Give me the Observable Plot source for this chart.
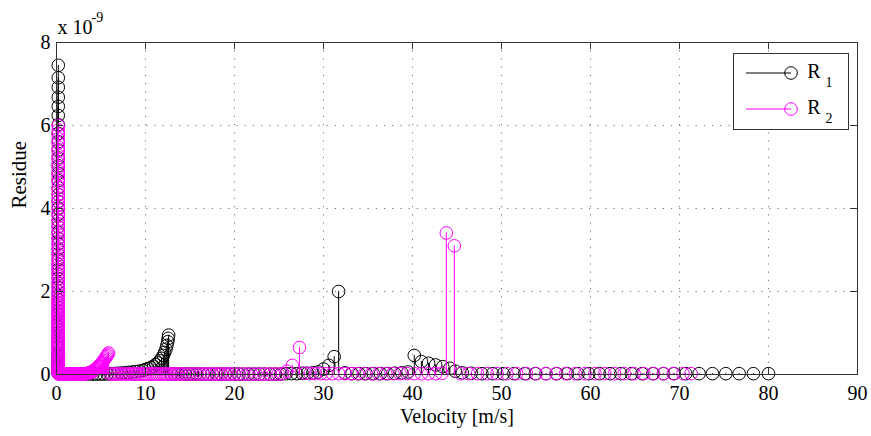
<!DOCTYPE html>
<html><head><meta charset="utf-8">
<script src="https://cdn.jsdelivr.net/npm/d3@7"></script>
<script src="https://cdn.jsdelivr.net/npm/@observablehq/plot@0.6"></script>
<style>body{margin:0;background:#fff} svg text{font-family:"Liberation Serif","DejaVu Serif","Noto Serif",Times,serif !important;}</style>
</head><body><div id="chart"></div>
<script>
// Tick values
const xTicks = [0,10,20,30,40,50,60,70,80,90];
const yTicks = [0,2,4,6,8];
const xGrid = [10,20,30,40,50,60,70,80];
const yGrid = [2,4,6];
const seriesNames = ["R", "R"];
const seriesSubs = ["1", "2"];
const seriesColors = ["#000000", "#ff00ff"];
const axisLabels = {x: "Velocity [m/s]", y: "Residue", exponent: "x 10", exponentPower: "-9"};

// Series R1: [velocity (m/s), residue (x1e-9)]
const r1 = [
[0.2,7.45],[0.2,7.15],[0.2,6.92],[0.2,6.68],[0.2,6.46],[0.2,6.24],[0.2,6.02],[0.2,5.81],[0.2,5.61],[0.2,5.41],
[0.2,5.22],[0.2,5.03],[0.2,4.85],[0.2,4.67],[0.2,4.50],[0.2,4.33],[0.2,4.17],[0.2,4.01],[0.2,3.86],[0.2,3.71],
[0.2,3.56],[0.2,3.42],[0.2,3.28],[0.2,3.15],[0.2,3.02],[0.2,2.89],[0.2,2.77],[0.2,2.65],[0.2,2.53],[0.2,2.42],
[0.2,2.31],[0.2,2.20],[0.2,2.10],[0.2,2.00],[0.2,1.90],[0.2,1.80],[0.2,1.71],[0.2,1.62],[0.2,1.53],[0.2,1.45],
[0.2,1.37],[0.2,1.29],[0.2,1.21],[0.2,1.14],[0.2,1.07],[0.2,1.00],[0.2,0.93],[0.2,0.87],[0.2,0.81],[0.2,0.75],
[0.2,0.69],[0.2,0.63],[0.2,0.58],[0.2,0.53],[0.2,0.48],[0.2,0.43],[0.2,0.38],[0.2,0.34],[0.2,0.30],[0.2,0.26],
[0.2,0.22],[0.2,0.18],[0.2,0.15],[0.2,0.12],[0.2,0.09],[0.2,0.06],[0.2,0.04],[0.2,0.02],
[0.5,0.01],[0.9,0.01],[1.3,0.01],[1.7,0.01],[2.1,0.01],[2.5,0.01],[2.9,0.01],[3.3,0.01],[3.7,0.01],[4.1,0.01],[4.5,0.01],[4.9,0.01],
[5.3,0.01],[5.7,0.015],[6.1,0.02],[6.5,0.025],[6.9,0.03],[7.3,0.035],[7.7,0.04],[8.1,0.05],[8.5,0.06],[8.9,0.07],
[9.3,0.08],[9.7,0.10],[10.0,0.12],[10.3,0.14],[10.6,0.17],[10.9,0.20],[11.15,0.24],[11.4,0.28],[11.6,0.33],[11.8,0.39],
[12.0,0.46],[12.15,0.53],[12.3,0.61],[12.4,0.70],[12.5,0.79],[12.55,0.87],[12.6,0.95],
[12.9,0.01],[13.3,0.01],[13.7,0.01],[14.1,0.01],[14.5,0.01],[14.9,0.01],[15.3,0.01],[15.7,0.01],[16.1,0.01],[16.5,0.01],
[17.0,0.01],[17.5,0.01],[18.0,0.01],[18.5,0.01],[19.0,0.01],[19.5,0.01],[20.0,0.01],[20.5,0.01],[21.0,0.01],[21.6,0.01],
[22.2,0.01],[22.8,0.01],[23.4,0.01],[24.0,0.01],[24.6,0.01],[25.2,0.01],[25.8,0.02],[26.4,0.02],[27.0,0.02],[27.6,0.03],
[28.2,0.03],[28.8,0.04],[29.4,0.06],[30.0,0.13],[30.6,0.22],[31.2,0.43],[31.7,2.00],[32.4,0.04],[33.2,0.02],[34.0,0.02],
[34.8,0.02],[35.6,0.02],[36.4,0.02],[37.2,0.02],[38.0,0.03],[38.8,0.04],[39.5,0.06],[40.2,0.46],[41.0,0.31],[41.8,0.27],
[42.6,0.23],[43.4,0.19],[44.2,0.15],[44.8,0.08],[45.6,0.04],[46.6,0.03],[47.8,0.02],[49.0,0.02],[50.2,0.02],[51.4,0.02],
[52.6,0.02],[53.8,0.02],[55.0,0.02],[56.2,0.02],[57.4,0.02],[58.6,0.02],[59.8,0.02],[61.0,0.02],[62.2,0.02],[63.4,0.02],
[64.6,0.02],[65.8,0.02],[67.0,0.02],[68.2,0.02],[69.4,0.02],[70.7,0.02],[72.2,0.02],[73.7,0.02],[75.2,0.02],[76.7,0.02],
[78.3,0.02],[80.0,0.02]
];

// Series R2: [velocity (m/s), residue (x1e-9)]
const r2 = [
[0.2,6.00],[0.2,5.89],[0.2,5.79],[0.2,5.68],[0.2,5.58],[0.2,5.48],[0.2,5.38],[0.2,5.28],[0.2,5.18],[0.2,5.09],
[0.2,4.99],[0.2,4.90],[0.2,4.80],[0.2,4.71],[0.2,4.62],[0.2,4.52],[0.2,4.43],[0.2,4.34],[0.2,4.25],[0.2,4.16],
[0.2,4.07],[0.2,3.98],[0.2,3.89],[0.2,3.81],[0.2,3.72],[0.2,3.63],[0.2,3.55],[0.2,3.46],[0.2,3.38],[0.2,3.29],
[0.2,3.21],[0.2,3.13],[0.2,3.05],[0.2,2.97],[0.2,2.89],[0.2,2.81],[0.2,2.73],[0.2,2.66],[0.2,2.58],[0.2,2.51],
[0.2,2.43],[0.2,2.36],[0.2,2.29],[0.2,2.22],[0.2,2.15],[0.2,2.08],[0.2,2.01],[0.2,1.94],[0.2,1.88],[0.2,1.82],
[0.2,1.78],[0.2,1.74],[0.2,1.70],[0.2,1.66],[0.2,1.62],[0.2,1.58],[0.2,1.54],[0.2,1.50],[0.2,1.46],[0.2,1.42],
[0.2,1.38],[0.2,1.34],[0.2,1.30],[0.2,1.26],[0.2,1.22],[0.2,1.18],[0.2,1.14],[0.2,1.10],[0.2,1.06],[0.2,1.02],
[0.2,0.98],[0.2,0.94],[0.2,0.90],[0.2,0.86],[0.2,0.82],[0.2,0.78],[0.2,0.74],[0.2,0.70],[0.2,0.66],[0.2,0.62],
[0.2,0.58],[0.2,0.54],[0.2,0.50],[0.2,0.46],[0.2,0.42],[0.2,0.38],[0.2,0.34],[0.2,0.30],[0.2,0.27],[0.2,0.24],
[0.2,0.21],[0.2,0.18],[0.2,0.15],[0.2,0.12],[0.2,0.10],[0.2,0.08],[0.2,0.06],[0.2,0.04],[0.2,0.03],[0.2,0.02],
[0.3,0.01],[0.4,0.01],[0.5,0.01],[0.6,0.01],[0.7,0.01],[0.8,0.01],[0.9,0.01],[1.0,0.01],[1.1,0.01],[1.2,0.01],
[1.3,0.01],[1.4,0.01],[1.5,0.01],[1.6,0.01],[1.7,0.01],[1.8,0.01],[1.9,0.01],[2.0,0.01],[2.1,0.01],[2.2,0.01],
[2.3,0.01],[2.4,0.01],[2.5,0.01],[2.6,0.01],[2.7,0.01],[2.8,0.01],[2.9,0.01],[3.0,0.015],[3.1,0.015],[3.2,0.02],
[3.3,0.02],[3.4,0.025],[3.5,0.03],
[3.6,0.035],[3.7,0.04],[3.8,0.05],[3.9,0.06],[4.0,0.07],[4.1,0.08],[4.2,0.10],[4.3,0.11],[4.4,0.13],[4.5,0.15],
[4.6,0.17],[4.7,0.19],[4.8,0.21],[4.9,0.23],[5.0,0.26],[5.1,0.28],[5.2,0.31],[5.3,0.34],[5.4,0.37],[5.5,0.40],
[5.6,0.43],[5.7,0.46],[5.78,0.49],[5.85,0.52],
[6.0,0.01],[6.25,0.01],[6.5,0.01],[6.75,0.01],[7.0,0.01],[7.25,0.01],[7.5,0.01],[7.75,0.01],[8.0,0.01],[8.25,0.01],
[8.5,0.01],[8.75,0.01],[9.0,0.01],[9.25,0.01],[9.5,0.01],[9.75,0.01],[10.0,0.01],[10.25,0.01],[10.5,0.01],[10.75,0.01],
[11.0,0.01],[11.25,0.01],[11.5,0.01],[11.75,0.01],[12.0,0.01],[12.25,0.01],[12.5,0.01],[12.75,0.01],[13.0,0.01],[13.25,0.01],
[13.5,0.01],[13.75,0.01],[14.0,0.01],[14.35,0.01],[14.7,0.01],[15.05,0.01],[15.4,0.01],[15.75,0.01],[16.1,0.01],[16.45,0.01],
[16.8,0.01],[17.15,0.01],[17.5,0.01],[17.85,0.01],[18.2,0.01],[18.55,0.01],[18.9,0.01],[19.25,0.01],[19.6,0.01],[19.95,0.01],
[20.4,0.01],[20.9,0.01],[21.4,0.01],[21.9,0.01],[22.4,0.01],[22.9,0.01],[23.4,0.01],[23.9,0.01],[24.4,0.01],[24.9,0.01],
[25.4,0.02],[25.9,0.08],[26.5,0.22],[27.3,0.65],[27.9,0.03],[28.5,0.02],[29.1,0.02],[29.7,0.02],[30.3,0.02],[31.0,0.02],
[31.7,0.02],[32.4,0.02],[33.1,0.02],[33.8,0.02],[34.6,0.02],[35.4,0.02],[36.2,0.02],[37.0,0.02],[37.8,0.02],[38.6,0.02],
[39.4,0.02],[40.2,0.02],[41.0,0.02],[41.8,0.02],[42.6,0.02],[43.3,0.03],[43.8,3.41],[44.7,3.10],[45.4,0.02],[46.3,0.02],
[47.3,0.02],[48.4,0.02],[49.5,0.02],[50.6,0.02],[51.7,0.02],[52.8,0.02],[53.9,0.02],[55.0,0.02],[56.1,0.02],[57.2,0.02],
[58.3,0.02],[59.4,0.02],[60.5,0.02],[61.6,0.02],[62.7,0.02],[63.8,0.02],[64.9,0.02],[66.0,0.02],[67.1,0.02],[68.2,0.02],
[69.3,0.02],[70.4,0.02],[71.3,0.02]
];

const series = [r1, r2];

const W = 871, H = 436, mL = 56, mR = 14, mT = 42, mB = 62;
const plotW = W - mL - mR, plotH = H - mT - mB;
const font = "'Liberation Serif', 'DejaVu Serif', 'Noto Serif', Times, serif";
const axisColor = "#333";
const tickLen = 7;

const dataMarks = [];
series.forEach((s, i) => {
  dataMarks.push(Plot.ruleX(s, {x: d => d[0], y1: 0, y2: d => d[1], stroke: seriesColors[i], strokeWidth: 1}));
  dataMarks.push(Plot.dot(s, {x: d => d[0], y: d => d[1], r: 6.3, stroke: seriesColors[i], fill: "none", strokeWidth: 1}));
});

const chart = Plot.plot({
  width: W, height: H,
  marginLeft: mL, marginRight: mR, marginTop: mT, marginBottom: mB,
  style: {fontFamily: font, fontSize: "20px", background: "white", color: "black", overflow: "visible"},
  x: {domain: [0, 90]},
  y: {domain: [0, 8]},
  marks: [
    Plot.gridX(xGrid, {stroke: "#777", strokeOpacity: 1, strokeWidth: 1, strokeDasharray: "1.2,7"}),
    Plot.gridY(yGrid, {stroke: "#777", strokeOpacity: 1, strokeWidth: 1, strokeDasharray: "1.2,7"}),
    ...dataMarks,
    Plot.frame({stroke: axisColor, strokeWidth: 1}),
    Plot.tickX(xTicks, {x: d => d, insetTop: plotH - tickLen, stroke: axisColor}),
    Plot.tickX(xTicks, {x: d => d, insetBottom: plotH - tickLen, stroke: axisColor}),
    Plot.tickY(yTicks, {y: d => d, insetRight: plotW - tickLen, stroke: axisColor}),
    Plot.tickY(yTicks, {y: d => d, insetLeft: plotW - tickLen, stroke: axisColor}),
    Plot.axisX(xTicks, {tickSize: 0, tickPadding: 11, fontSize: 20, label: null, fill: "black", fontFamily: font}),
    Plot.axisY(yTicks, {tickSize: 0, tickPadding: 6, fontSize: 20, label: null, fill: "black", fontFamily: font}),
    Plot.text([axisLabels.x], {frameAnchor: "bottom", lineAnchor: "bottom", dy: 48, fontSize: 20, fill: "black", fontFamily: font}),
    Plot.text([axisLabels.y], {frameAnchor: "left", rotate: -90, lineAnchor: "bottom", dx: -31, fontSize: 21, fill: "black", fontFamily: font}),
    Plot.text([axisLabels.exponent], {frameAnchor: "top-left", textAnchor: "start", lineAnchor: "bottom", dx: 1, dy: -9, fontSize: 20, fill: "black", fontFamily: font}),
    Plot.text([axisLabels.exponentPower], {frameAnchor: "top-left", textAnchor: "start", lineAnchor: "bottom", dx: 35, dy: -21, fontSize: 14, fill: "black", fontFamily: font})
  ]
});

document.getElementById("chart").appendChild(chart);

// Legend (inside the plot, top-right)
const svg = d3.select(chart);
const lg = svg.append("g").attr("font-family", font).attr("fill", "black");
lg.append("rect").attr("x", 733.5).attr("y", 53.5).attr("width", 115).attr("height", 76)
  .attr("fill", "white").attr("stroke", axisColor);
const rowY = [73, 109];
seriesNames.forEach((name, i) => {
  const y = rowY[i];
  lg.append("line").attr("x1", 746).attr("x2", 791).attr("y1", y).attr("y2", y).attr("stroke", seriesColors[i]);
  lg.append("circle").attr("cx", 791).attr("cy", y).attr("r", 6.3).attr("fill", "none").attr("stroke", seriesColors[i]);
  lg.append("text").attr("x", 814).attr("y", y + 5).attr("font-size", 20).text(name);
  lg.append("text").attr("x", 829).attr("y", y + 14).attr("font-size", 14).text(seriesSubs[i]);
});
</script>
</body></html>
